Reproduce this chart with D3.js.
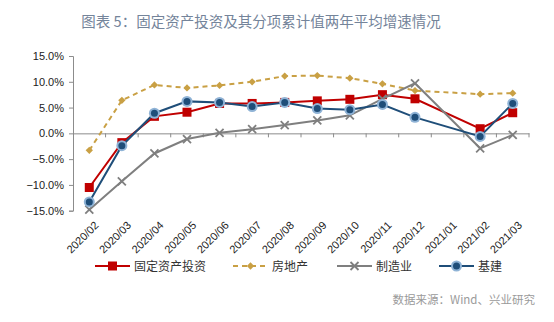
<!DOCTYPE html>
<html><head><meta charset="utf-8">
<script src="https://cdn.jsdelivr.net/npm/d3@7"></script>
<style>body{margin:0;background:#fff}svg{display:block}</style>
</head><body>
<script>
const title = "图表 5：固定资产投资及其分项累计值两年平均增速情况";
const source = "数据来源：Wind、兴业研究";
const categories = ["2020/02","2020/03","2020/04","2020/05","2020/06","2020/07","2020/08","2020/09","2020/10","2020/11","2020/12","2021/01","2021/02","2021/03"];
const fixedAsset   = [-10.5,-1.8,3.3,4.1,5.8,5.8,6.0,6.3,6.6,7.5,6.7,null,0.9,4.0];
const realEstate   = [-3.3,6.4,9.4,8.8,9.3,10.0,11.1,11.2,10.7,9.6,8.3,null,7.6,7.8];
const manufacturing= [-14.8,-9.3,-3.9,-1.1,0.1,0.8,1.6,2.5,3.5,6.7,9.7,null,-2.9,-0.3];
const infrastructure=[-13.3,-2.4,3.9,6.2,6.0,5.2,6.0,4.8,4.6,5.6,3.1,null,-0.6,5.8];
const yTicks = [-15,-10,-5,0,5,10,15];
const seriesNames = ["固定资产投资","房地产","制造业","基建"];

const W=554,H=322;
const svg=d3.select("body").append("svg").attr("width",W).attr("height",H);
const font="Arial, 'Liberation Sans', 'Noto Sans CJK SC', sans-serif";

svg.append("text").attr("x",261).attr("y",27).attr("text-anchor","middle")
  .attr("font-family","'Noto Sans CJK SC', sans-serif").attr("font-size",14.5)
  .attr("fill","#74849a").text(title);

const x=d3.scaleBand().domain(categories).range([73,529]);
const y=d3.scaleLinear().domain([-15,15]).range([210.7,56]);
const axisColor="#8c8c8c";

// y axis
const ya=svg.append("g").attr("transform","translate(73,0)")
  .call(d3.axisLeft(y).tickValues(yTicks).tickSize(4).tickPadding(5).tickFormat(d=>d3.format(".1f")(d)+"%"));
ya.select(".domain").attr("stroke",axisColor);
ya.selectAll(".tick line").attr("stroke",axisColor);
ya.selectAll("text").attr("font-family",font).attr("font-size",11).attr("fill","#222");

// x axis at 0
const xa=svg.append("g").attr("transform",`translate(0,${y(0)})`)
  .call(d3.axisBottom(x).tickSize(0).tickFormat(""));
xa.select(".domain").attr("stroke",axisColor);
xa.selectAll(".tick").remove();
const bounds=categories.map(c=>x(c)).concat([x.range()[1]]).slice(1);
xa.selectAll("line.b").data(bounds).enter().append("line")
  .attr("x1",d=>d).attr("x2",d=>d).attr("y1",0).attr("y2",4).attr("stroke",axisColor);

// x labels
svg.selectAll("text.xl").data(categories).enter().append("text")
  .attr("class","xl")
  .attr("transform",d=>`translate(${x(d)+x.bandwidth()/2+10},${226}) rotate(-45)`)
  .attr("text-anchor","end").attr("font-family",font).attr("font-size",11).attr("fill","#222")
  .text(d=>d);

const series=[
  {name:seriesNames[0],data:fixedAsset,color:"#c00000",dash:null,marker:"square",w:2},
  {name:seriesNames[1],data:realEstate,color:"#c9a044",dash:"5,4",marker:"diamond",w:2},
  {name:seriesNames[2],data:manufacturing,color:"#7f7f7f",dash:null,marker:"x",w:2},
  {name:seriesNames[3],data:infrastructure,color:"#1f4e79",dash:null,marker:"circle",w:2}
];

function drawMarker(g,type,cx,cy,color){
  if(type==="square"){
    g.append("rect").attr("x",cx-4.5).attr("y",cy-4.5).attr("width",9).attr("height",9).attr("fill",color);
  } else if(type==="diamond"){
    g.append("path").attr("d",d3.symbol(d3.symbolDiamond2,34)()).attr("transform",`translate(${cx},${cy})`).attr("fill",color);
  } else if(type==="x"){
    g.append("path").attr("d",`M${cx-4},${cy-4}L${cx+4},${cy+4}M${cx-4},${cy+4}L${cx+4},${cy-4}`)
      .attr("stroke",color).attr("stroke-width",1.8);
  } else {
    g.append("circle").attr("cx",cx).attr("cy",cy).attr("r",5.5).attr("fill","#8fb3d6");
    g.append("circle").attr("cx",cx).attr("cy",cy).attr("r",3.5).attr("fill",color);
  }
}

const line=d3.line().x(d=>x(d.c)+x.bandwidth()/2).y(d=>y(d.v));
series.forEach(s=>{
  const pts=categories.map((c,i)=>({c,v:s.data[i]})).filter(d=>d.v!==null);
  const g=svg.append("g");
  g.append("path").datum(pts).attr("d",line).attr("fill","none").attr("stroke",s.color)
    .attr("stroke-width",s.w).attr("stroke-dasharray",s.dash);
  pts.forEach(p=>drawMarker(g,s.marker,x(p.c)+x.bandwidth()/2,y(p.v),s.color));
});

// legend
const legX=[95,233,337,439];
const legY=266;
series.forEach((s,i)=>{
  const g=svg.append("g");
  g.append("line").attr("x1",legX[i]).attr("x2",legX[i]+35).attr("y1",legY).attr("y2",legY)
    .attr("stroke",s.color).attr("stroke-width",2).attr("stroke-dasharray",s.dash);
  drawMarker(g,s.marker,legX[i]+17.5,legY,s.color);
  g.append("text").attr("x",legX[i]+39).attr("y",legY+4.5).attr("font-family","'Noto Sans CJK SC', sans-serif")
    .attr("font-size",12).attr("fill","#333").text(s.name);
});

svg.append("text").attr("x",535).attr("y",304).attr("text-anchor","end")
  .attr("font-family","'Noto Sans CJK SC', sans-serif").attr("font-size",11.5).attr("fill","#9a9a9a").text(source);
</script>
</body></html>
